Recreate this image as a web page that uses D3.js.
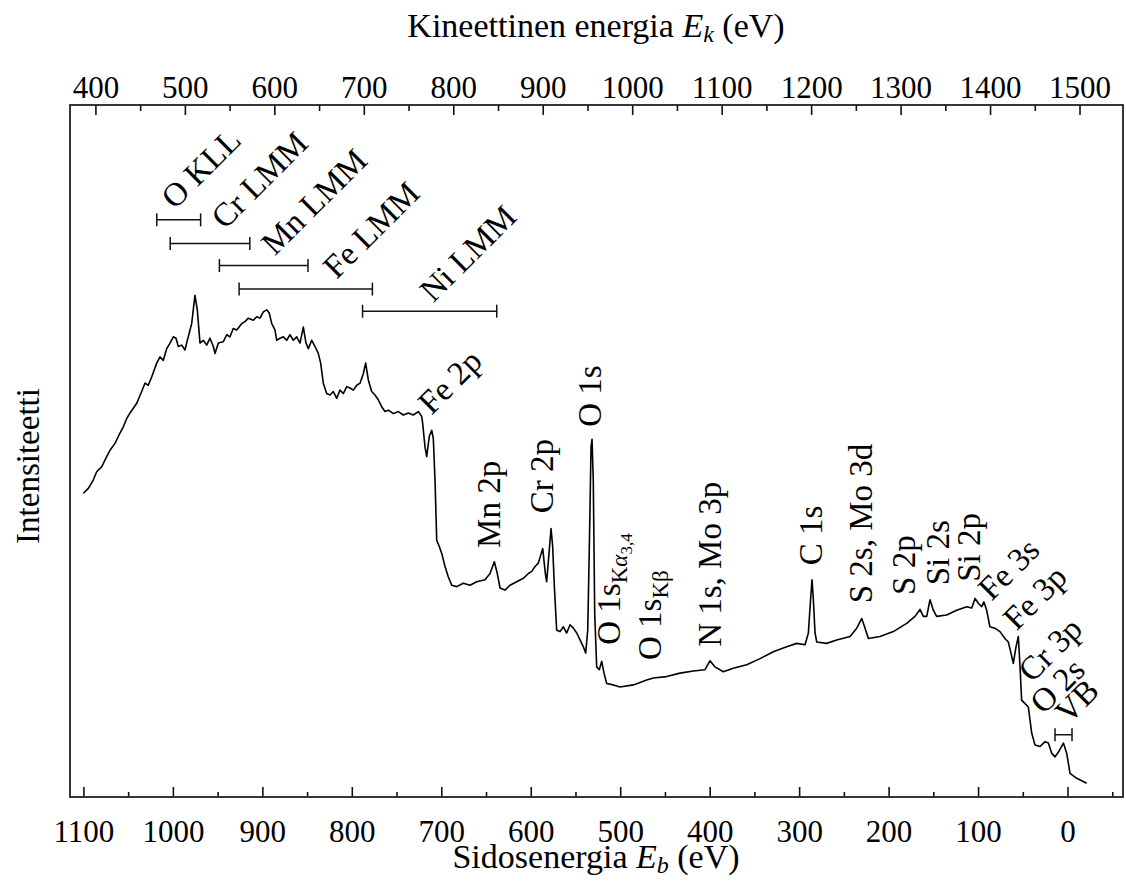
<!DOCTYPE html>
<html>
<head>
<meta charset="utf-8">
<script src="https://cdn.jsdelivr.net/npm/d3@7"></script>
<style>
  body { margin: 0; background: #fff; }
  svg { display: block; font-family: "Liberation Serif", "DejaVu Serif", serif; }
</style>
</head>
<body>
<script>
// binding energy (eV) and intensity (arb.)
const eb = [1100.1, 1094.5, 1089, 1085.2, 1079.6, 1074, 1070.3, 1064.7, 1059.1, 1055.4, 1051.6, 1047.9, 1040.4, 1034.9, 1031.2,
  1027.5, 1023.7, 1018.1, 1014.4, 1010.7, 1006.9, 1003.2, 999.5, 996.5, 993.9, 990.1, 986.5, 984.6, 979, 975.3,
  972.7, 969.7, 966, 962.2, 958.5, 954.8, 952.9, 949.2, 943.6, 939.8, 936.2, 932.5, 928.7, 923.1, 919.4,
  915.7, 910.1, 906.3, 902.6, 898.9, 895.1, 892.2, 889.5, 885.9, 884, 880.3, 876.6, 872.8, 869.1, 865.4,
  861.6, 857.9, 854.2, 851.2, 848.6, 844.8, 841.1, 837.5, 834.8, 831.9, 828.1, 824.4, 820.7, 816.9, 813.2,
  809.5, 805.7, 802, 798.3, 794.5, 790.8, 787.1, 784.5, 781.6, 777.8, 774.1, 770.4, 766.6, 762.9, 759.2,
  753.6, 748, 742.4, 736.8, 731.3, 725.7, 721.9, 720.8, 718.2, 716.3, 713.4, 710.7, 708.9, 707, 705.1,
  702.2, 699.5, 695.8, 692.1, 688.3, 682.7, 675.4, 667.9, 660.4, 651.1, 645.5, 640.7, 637.4, 634.3, 628.8,
  623.2, 615.7, 608.3, 602.7, 598.9, 595.2, 591.5, 586.6, 583.7, 582.2, 579.6, 577.3, 575.5, 573.6, 571,
  567.3, 563.6, 559.8, 556.1, 552.4, 548.6, 544.9, 541.2, 538.6, 536.3, 534.5, 532.6, 531.5, 530.1, 528.5,
  526.3, 523.4, 520.7, 518.1, 515.1, 507.7, 500.2, 485.3, 470.4, 463, 448.1, 433.1, 418.3, 405.2, 399.6,
  394, 384.8, 373.6, 358.6, 343.7, 328.9, 313.9, 302.7, 293.4, 289.7, 287, 285.6, 284.1, 282.2, 280.3,
  269.2, 258, 243.1, 235.6, 230, 226.3, 222.6, 209.6, 194.7, 179.8, 170.5, 164.9, 161.2, 157.4, 153.7,
  150, 146.3, 135.1, 123.9, 112.7, 107.1, 103.4, 99.7, 96, 93.5, 90.4, 86.8, 81.2, 75.5, 70,
  66.2, 63.2, 60.6, 57.6, 55, 53.1, 51.3, 47.5, 43.8, 40, 36.3, 30.7, 25.1, 21.4, 17.6,
  14, 10.2, 4.6, 0.9, -2.8, -10.3, -21.4]
const counts = [439, 446, 458, 470, 477, 492, 501, 511, 526, 535, 547, 555, 569, 586, 598,
  595, 607, 627, 636, 631, 648, 656, 665, 663, 651, 653, 646, 656, 684, 725,
  704, 656, 660, 653, 663, 651, 641, 656, 658, 668, 665, 677, 675, 684, 687,
  692, 689, 694, 692, 701, 704, 699, 684, 675, 660, 663, 665, 660, 668, 660,
  665, 656, 679, 656, 648, 660, 651, 641, 627, 598, 583, 581, 586, 576, 588,
  583, 593, 591, 588, 595, 598, 612, 627, 603, 586, 581, 574, 564, 557, 559,
  554, 557, 552, 555, 552, 557, 550, 540, 506, 492, 521, 530, 518, 458, 371,
  362, 352, 333, 318, 306, 304, 309, 306, 311, 314, 323, 340, 323, 302, 299,
  306, 311, 316, 323, 326, 333, 338, 359, 323, 311, 352, 388, 362, 304, 241,
  239, 246, 237, 249, 244, 237, 227, 217, 208, 241, 362, 506, 517, 458, 265,
  188, 184, 196, 179, 164, 162, 159, 162, 169, 172, 174, 179, 182, 184, 197,
  188, 181, 186, 191, 200, 210, 217, 222, 220, 237, 289, 314, 285, 237, 224,
  222, 227, 232, 244, 258, 244, 229, 232, 239, 251, 261, 271, 261, 261, 285,
  270, 261, 263, 270, 275, 273, 287, 280, 275, 282, 270, 246, 244, 239, 229,
  224, 208, 193, 217, 232, 188, 140, 135, 130, 92, 75, 73, 80, 78, 63,
  58, 65, 78, 63, 34, 27, 20]

// top axis: kinetic energy with Al K-alpha photons
const photonEnergy = 1486.6
const ebTicks = [1100, 1000, 900, 800, 700, 600, 500, 400, 300, 200, 100, 0]
const ekTicks = [400, 500, 600, 700, 800, 900, 1000, 1100, 1200, 1300, 1400, 1500]

// peak labels written upright: text, Eb at baseline, intensity at foot, subscript
const peakNames = ["Mn 2p", "Cr 2p", "O 1s", "O 1s", "O 1s", "N 1s, Mo 3p", "C 1s", "S 2s, Mo 3d", "S 2p", "Si 2s", "Si 2p"]
const peakSubs = ["", "", "", "Kα3,4", "Kβ", "", "", "", "", "", ""]
const peakEb = [634, 575, 521, 500, 454, 387, 275, 219, 171, 133, 98]
const peakFoot = [360, 410, 535, 220, 198, 217, 335, 280, 292, 306, 311]

// labels at 45 deg
const slantNames = ["O KLL", "Cr LMM", "Mn LMM", "Fe LMM", "Ni LMM", "Fe 2p", "Fe 3s", "Fe 3p", "Cr 3p", "O 2s", "VB"]
const slantEb = [998, 942, 886, 817, 709, 711, 85, 57, 40, 27, -1]
const slantFoot = [848, 819, 781, 747, 713, 551, 282, 239, 164, 118, 104]

// ranges of Auger lines and valence band
const rangeFrom = [1018, 1003, 948, 926, 788, 14]
const rangeTo = [969, 914, 849, 777, 638, -5]
const rangeLevel = [834, 800, 768, 734, 702, 90]

const width = 1126
const height = 881
const plotL = 70, plotR = 1123, plotT = 105, plotB = 797

const svg = d3.select("body")
  .append("svg")
  .attr("width", width)
  .attr("height", height)

const x = d3.scaleLinear().domain([1115, -62]).range([plotL, plotR])
const xk = d3.scaleLinear().domain([photonEnergy - 1115, photonEnergy + 62]).range([plotL, plotR])
const y = d3.scaleLinear().domain([0, 1000]).range([plotB, plotT])

// axes, ticks pointing inward
const minorEb = d3.range(1050, -100, -100)
const minorEk = d3.range(450, 1550, 100)
const fmt = d3.format("d")

svg.append("g")
  .attr("transform", `translate(0,${plotB})`)
  .call(d3.axisBottom(x).tickValues(minorEb).tickSizeInner(-5).tickSizeOuter(0).tickFormat(""))
svg.append("g")
  .attr("transform", `translate(0,${plotB})`)
  .call(d3.axisBottom(x).tickValues(ebTicks).tickSizeInner(-10).tickSizeOuter(0).tickPadding(23).tickFormat(fmt))
svg.append("g")
  .attr("transform", `translate(0,${plotT})`)
  .call(d3.axisTop(xk).tickValues(minorEk).tickSizeInner(-6).tickSizeOuter(0).tickFormat(""))
svg.append("g")
  .attr("transform", `translate(0,${plotT})`)
  .call(d3.axisTop(xk).tickValues(ekTicks).tickSizeInner(-10).tickSizeOuter(0).tickPadding(7).tickFormat(fmt))

svg.selectAll(".domain").remove()
svg.selectAll(".tick line").attr("stroke", "#111").attr("stroke-width", 1.6)
svg.selectAll(".tick text")
  .attr("font-family", "Liberation Serif, serif")
  .attr("font-size", 31)
  .attr("fill", "#000")

svg.append("rect")
  .attr("x", plotL)
  .attr("y", plotT)
  .attr("width", plotR - plotL)
  .attr("height", plotB - plotT)
  .attr("fill", "none")
  .attr("stroke", "#222")
  .attr("stroke-width", 1.8)

// axis titles
const topTitle = svg.append("text")
  .attr("x", 596)
  .attr("y", 37)
  .attr("text-anchor", "middle")
  .attr("font-size", 34)
topTitle.append("tspan").text("Kineettinen energia ")
topTitle.append("tspan").attr("font-style", "italic").text("E")
topTitle.append("tspan").attr("font-style", "italic").attr("font-size", 24).attr("dy", 5).text("k")
topTitle.append("tspan").attr("dy", -5).text(" (eV)")

const botTitle = svg.append("text")
  .attr("x", 596)
  .attr("y", 868)
  .attr("text-anchor", "middle")
  .attr("font-size", 34)
botTitle.append("tspan").text("Sidosenergia ")
botTitle.append("tspan").attr("font-style", "italic").text("E")
botTitle.append("tspan").attr("font-style", "italic").attr("font-size", 24).attr("dy", 5).text("b")
botTitle.append("tspan").attr("dy", -5).text(" (eV)")

svg.append("text")
  .attr("transform", "translate(39,466) rotate(-90)")
  .attr("text-anchor", "middle")
  .attr("font-size", 33)
  .text("Intensiteetti")

// spectrum
const spectrum = eb.map((e, i) => [e, counts[i]])
const line = d3.line()
  .x(d => x(d[0]))
  .y(d => y(d[1]))

svg.append("path")
  .datum(spectrum)
  .attr("fill", "none")
  .attr("stroke", "#000")
  .attr("stroke-width", 1.6)
  .attr("stroke-linejoin", "round")
  .attr("d", line)

// range bars with end caps
const bars = svg.append("g").attr("stroke", "#111").attr("stroke-width", 1.5)
rangeFrom.forEach((a, i) => {
  const yy = y(rangeLevel[i])
  bars.append("line").attr("x1", x(a)).attr("x2", x(rangeTo[i])).attr("y1", yy).attr("y2", yy)
  bars.append("line").attr("x1", x(a)).attr("x2", x(a)).attr("y1", yy - 6.5).attr("y2", yy + 6.5)
  bars.append("line").attr("x1", x(rangeTo[i])).attr("x2", x(rangeTo[i])).attr("y1", yy - 6.5).attr("y2", yy + 6.5)
})

// upright peak labels
peakNames.forEach((t, i) => {
  const txt = svg.append("text")
    .attr("transform", `translate(${x(peakEb[i])},${y(peakFoot[i])}) rotate(-90)`)
    .attr("font-size", 33)
  txt.append("tspan").text(t)
  if (peakSubs[i] === "Kα3,4") {
    txt.append("tspan").attr("font-size", 23).attr("dy", 7).text("K")
    txt.append("tspan").attr("font-size", 23).attr("font-style", "italic").text("α")
    txt.append("tspan").attr("font-size", 17).attr("dy", 5).text("3,4")
  } else if (peakSubs[i] === "Kβ") {
    txt.append("tspan").attr("font-size", 23).attr("dy", 7).text("Kβ")
  }
})

// slanted labels
slantNames.forEach((t, i) => {
  svg.append("text")
    .attr("transform", `translate(${x(slantEb[i])},${y(slantFoot[i])}) rotate(-45)`)
    .attr("font-size", 33)
    .text(t)
})
</script>
</body>
</html>
